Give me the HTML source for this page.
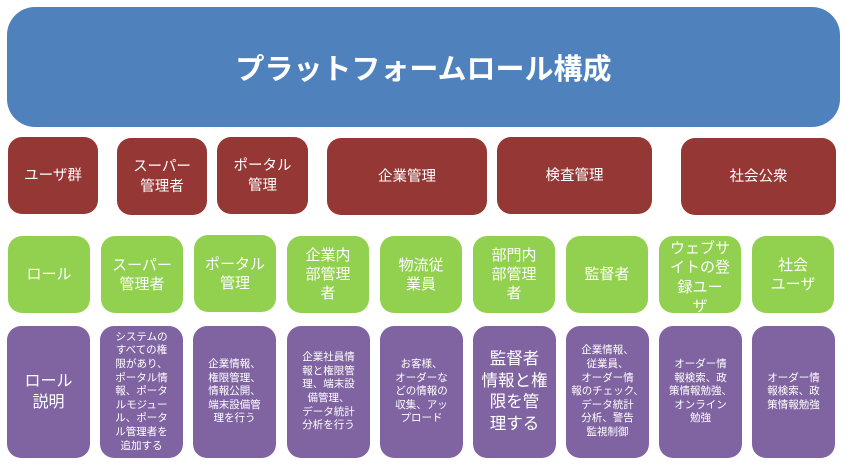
<!DOCTYPE html>
<html><head><meta charset="utf-8"><style>
html,body{margin:0;padding:0;background:#fff;width:847px;height:467px;overflow:hidden}
.b{position:absolute;display:flex;align-items:center;justify-content:center;text-align:center;color:#fff;font-family:"Liberation Sans","Noto Sans CJK JP",sans-serif;box-sizing:border-box;border-radius:14px}
.r{background:#953735;font-size:14.5px;line-height:20px;top:137px;height:77px}
.g{background:#92D050;font-size:15px;line-height:19px;top:236px;height:77px;width:82px}
.p{background:#8064A2;font-size:10.5px;line-height:13.6px;top:326px;height:132px;width:83px;padding:0 4px}
</style></head><body>
<div class="b" style="left:7px;top:7px;width:833px;height:120px;background:#4F81BD;border-radius:28px;font-size:29px;font-weight:bold">プラットフォームロール構成</div>

<div class="b r" style="left:8px;width:90px">ユーザ群</div>
<div class="b r" style="left:117px;width:90px;top:138px">スーパー<br>管理者</div>
<div class="b r" style="left:217px;width:91px">ポータル<br>管理</div>
<div class="b r" style="left:327px;width:160px;top:138px">企業管理</div>
<div class="b r" style="left:497px;width:155px">検査管理</div>
<div class="b r" style="left:681px;width:155px;top:138px">社会公衆</div>

<div class="b g" style="left:8px">ロール</div>
<div class="b g" style="left:101px">スーパー<br>管理者</div>
<div class="b g" style="left:194px;top:235px">ポータル<br>管理</div>
<div class="b g" style="left:287px">企業内<br>部管理<br>者</div>
<div class="b g" style="left:380px">物流従<br>業員</div>
<div class="b g" style="left:473px">部門内<br>部管理<br>者</div>
<div class="b g" style="left:566px">監督者</div>
<div class="b g" style="left:659px;line-height:19.5px;padding-top:6px">ウェブサ<br>イトの登<br>録ユー<br>ザ</div>
<div class="b g" style="left:752px">社会<br>ユーザ</div>

<div class="b p" style="left:7px;font-size:16px;line-height:21px">ロール<br>説明</div>
<div class="b p" style="left:100px">システムの<br>すべての権<br>限があり、<br>ポータル情<br>報、ポータ<br>ルモジュー<br>ル、ポータ<br>ル管理者を<br>追加する</div>
<div class="b p" style="left:193px">企業情報、<br>権限管理、<br>情報公開、<br>端末設備管<br>理を行う</div>
<div class="b p" style="left:287px">企業社員情<br>報と権限管<br>理、端末設<br>備管理、<br>データ統計<br>分析を行う</div>
<div class="b p" style="left:380px">お客様、<br>オーダーな<br>どの情報の<br>収集、アッ<br>プロード</div>
<div class="b p" style="left:473px;font-size:16.5px;line-height:21.5px">監督者<br>情報と権<br>限を管<br>理する</div>
<div class="b p" style="left:566px">企業情報、<br>従業員、<br>オーダー情<br>報のチェック、<br>データ統計<br>分析、警告<br>監視制御</div>
<div class="b p" style="left:659px">オーダー情<br>報検索、政<br>策情報勉強、<br>オンライン<br>勉強</div>
<div class="b p" style="left:752px">オーダー情<br>報検索、政<br>策情報勉強</div>
</body></html>
